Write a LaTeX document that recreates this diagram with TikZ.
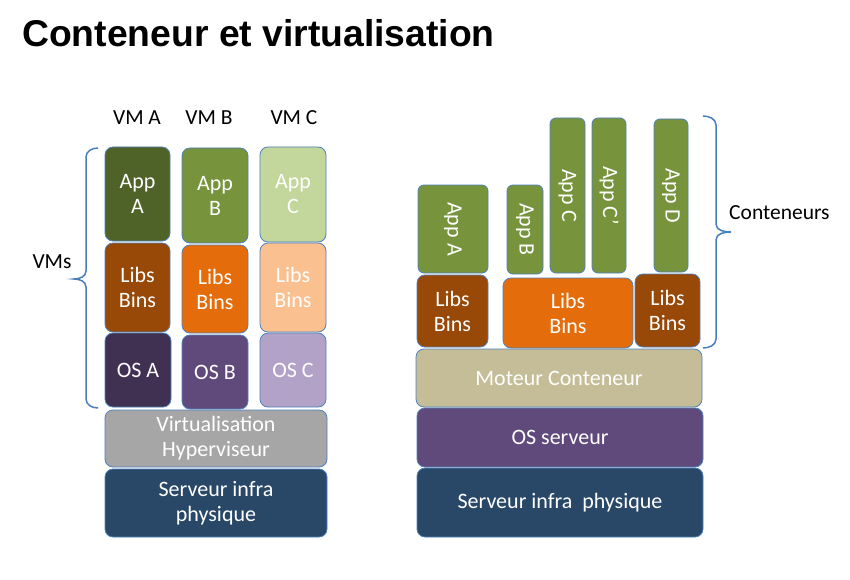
\documentclass[tikz,border=0pt]{standalone}
\usepackage{fontspec}
\setmainfont{Carlito}
\newfontfamily\titlefont{Liberation Sans}
\begin{document}
\begin{tikzpicture}[x=1pt,y=-1pt,
  box/.style={draw={rgb,255:red,79;green,129;blue,189}, line width=0.8pt,
    rounded corners=8pt, inner sep=0pt, text=white, align=center,
    font=\fontsize{22}{25}\selectfont},
  slim/.style={box, rounded corners=6pt, rotate=-90},
  lbl/.style={font=\fontsize{21.5}{25}\selectfont, text=black, inner sep=0pt},
  bracestyle/.style={draw={rgb,255:red,74;green,126;blue,187}, line width=1.5pt}]
\definecolor{appA}{HTML}{4F6228}
\definecolor{appB}{HTML}{77933C}
\definecolor{appC}{HTML}{C3D69B}
\definecolor{libA}{HTML}{984807}
\definecolor{libB}{HTML}{E46C0A}
\definecolor{libC}{HTML}{FAC090}
\definecolor{osA}{HTML}{403152}
\definecolor{osB}{HTML}{604A7B}
\definecolor{osC}{HTML}{B3A2C7}
\definecolor{virt}{HTML}{A6A6A6}
\definecolor{srv}{HTML}{294868}
\definecolor{mot}{HTML}{C4BD97}
\useasboundingbox[fill=white] (0,0) rectangle (850,580);

% title
\node[anchor=base west, inner sep=0pt, font=\titlefont\bfseries\fontsize{37.3}{40}\selectfont] (title) at (22,47) {Conteneur et virtualisation};

% ---------- left : VMs ----------
\node[lbl] (vmA) at (137,118) {VM A};
\node[lbl] (vmB) at (209,118) {VM B};
\node[lbl] (vmC) at (294,118) {VM C};

\node[box, fill=appA, minimum width=65, minimum height=94] (appA) at (137.5,194) {App\\A};
\node[box, fill=appB, minimum width=66, minimum height=95] (appB) at (215,195.5) {App\\B};
\node[box, fill=appC, minimum width=66, minimum height=95] (appC) at (293,194.5) {App\\C};

\node[box, fill=libA, minimum width=65, minimum height=89] (libA) at (137.5,287.5) {Libs\\Bins};
\node[box, fill=libB, minimum width=66, minimum height=88] (libB) at (215,289) {Libs\\Bins};
\node[box, fill=libC, minimum width=66, minimum height=89] (libC) at (293,287.5) {Libs\\Bins};

\node[box, fill=osA, minimum width=66, minimum height=74] (osA) at (138,370) {OS A};
\node[box, fill=osB, minimum width=66, minimum height=74] (osB) at (215,372) {OS B};
\node[box, fill=osC, minimum width=66, minimum height=74] (osC) at (293,370) {OS C};

\node[box, fill=virt, minimum width=222, minimum height=57] (virt) at (216,438.5) {Virtualisation\\Hyperviseur};
\node[box, fill=srv, minimum width=222, minimum height=68] (srvL) at (216,503) {Serveur infra\\physique};

\node[lbl] (vms) at (52,262) {VMs};
\draw[bracestyle] (98,148) to[out=180,in=90] (86,157) -- (86,271)
   to[out=-90,in=0] (74,279) to[out=0,in=90] (86,287) -- (86,399)
   to[out=-90,in=180] (98,408);

% ---------- right : containers ----------
\node[slim, fill=appB, minimum width=88, minimum height=70] (rAppA) at (453,229) {App A};
\node[slim, fill=appB, minimum width=89, minimum height=36] (rAppB) at (525,229.5) {App B};
\node[slim, fill=appB, minimum width=155, minimum height=35] (rAppC) at (567.5,195.5) {App C};
\node[slim, fill=appB, minimum width=155, minimum height=34] (rAppC2) at (609,195.5) {App C'};
\node[slim, fill=appB, minimum width=153, minimum height=34] (rAppD) at (671,195.5) {App D};

\node[box, fill=libA, minimum width=71, minimum height=72] (rLib1) at (452.5,311) {Libs\\Bins};
\node[box, fill=libB, minimum width=130, minimum height=70] (rLib2) at (568,313) {Libs\\Bins};
\node[box, fill=libA, minimum width=65, minimum height=73] (rLib3) at (667.5,310.5) {Libs\\Bins};

\node[box, fill=mot, minimum width=286, minimum height=58] (mot) at (559,378) {Moteur Conteneur};
\node[box, fill=osB, minimum width=286, minimum height=59] (osSrv) at (560,437.5) {OS serveur};
\node[box, fill=srv, minimum width=286, minimum height=69] (srvR) at (560,502.5) {Serveur infra\ \ physique};

\node[lbl, anchor=west] (cont) at (729,213) {Conteneurs};
\draw[bracestyle] (703,116) to[out=0,in=90] (716,125) -- (716,224)
   to[out=-90,in=180] (731,232) to[out=180,in=90] (716,240) -- (716,339)
   to[out=-90,in=0] (703,348);
\end{tikzpicture}
\end{document}
